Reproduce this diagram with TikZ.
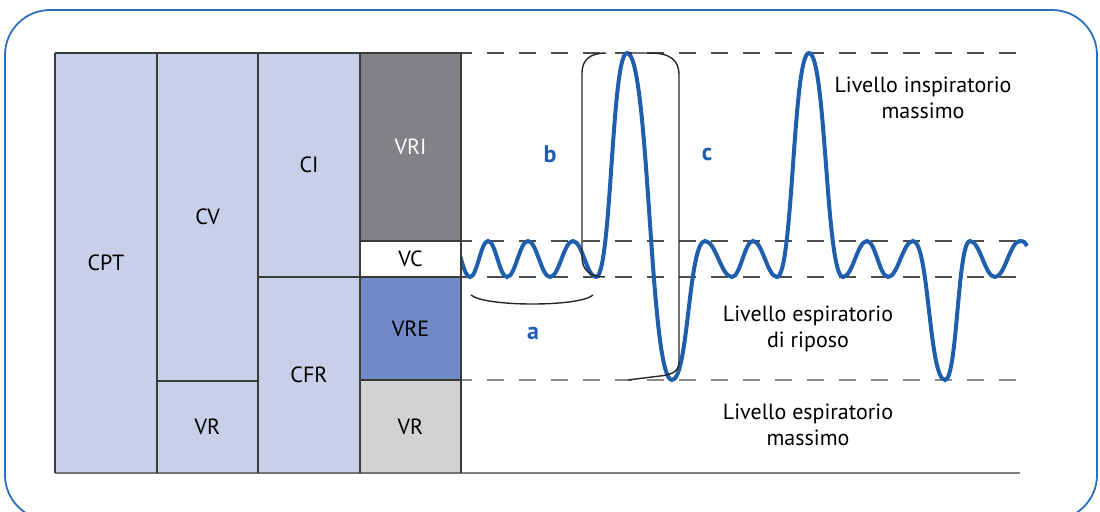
\documentclass[tikz,border=0pt]{standalone}
\usepackage{fontspec}
\setsansfont{PT Sans}
\definecolor{clav}{HTML}{C8CFE8}
\definecolor{cvri}{HTML}{818285}
\definecolor{cvre}{HTML}{7189C5}
\definecolor{cvr}{HTML}{D1D2D4}
\definecolor{cwave}{HTML}{1E5EAD}
\definecolor{cframe}{HTML}{2B6FBF}
\definecolor{cline}{HTML}{3A3A3A}
\tikzset{
  every picture/.style={font=\sffamily},
  lbl/.style={font=\sffamily\fontsize{11}{13}\selectfont, text=#1, inner sep=0pt, align=center},
  lbl/.default=black,
  tag/.style={font=\sffamily\bfseries\fontsize{12}{14}\selectfont, text=cwave, inner sep=0pt},
  wall/.style={draw=cline, line width=1pt},
  sep/.style={draw=cline, line width=0.6pt},
  lvl/.style={draw=#1, line width=0.7pt, dash pattern=on 8.5pt off 7.5pt, dash phase=3pt},
  lvl/.default=black!70,
  wave/.style={draw=cwave, line width=2pt},
  brk/.style={draw=black!85, line width=0.7pt},
  frame/.style={draw=cframe, line width=0.9pt, rounded corners=22.5pt},
}

\begin{document}
\begin{tikzpicture}[x=0.5pt, y=-0.5pt]
  \useasboundingbox (0,0) rectangle (1100,511);
  \clip (0,0) rectangle (1100,511);
  \draw[frame] (5,10) rectangle (1097,520);
  \draw[lvl] (461,53) -- (1022,53);
  \draw[lvl] (461,241) -- (1022,241);
  \draw[lvl] (461,277) -- (1022,277);
  \draw[lvl=black!45] (461,380) -- (1022,380);
  \draw[draw=black!50, line width=0.8pt] (461,473) -- (1020,473);
  \draw[wave] (452,241)
    foreach \x/\y/\k [remember=\x as \lx (initially 452), remember=\y as \ly (initially 241)] in
      {470/277/0.4, 488/241/0.4, 507/277/0.4, 528/241/0.4, 550/277/0.4, 573/241/0.4, 596/277/0.4,
       627/53/0.5, 672/380/0.5, 705/241/0.5, 732/277/0.4, 753/241/0.4, 777/277/0.4,
       809/53/0.5, 843/277/0.5, 867/241/0.4, 888/277/0.4, 913/241/0.4,
       945/380/0.5, 970/241/0.5, 995/277/0.4, 1020/241/0.4}
      { .. controls ({\lx+\k*(\x-\lx)},\ly) and ({\x-\k*(\x-\lx)},\y) .. (\x,\y) }
    .. controls (1024,241) and (1026,243) .. (1027,246);
  \foreach \nm/\xa/\ya/\xb/\yb/\col/\tc/\txt in
    {cpt/55/53/157/473/clav/black/CPT, cv/157/53/258/381/clav/black/CV,
     vra/157/381/258/473/clav/black/VR, ci/258/53/360/277/clav/black/CI,
     cfr/258/277/360/473/clav/black/CFR, vri/360/53/461/241/cvri/white/VRI,
     vc/360/241/461/277/white/black/VC, vre/360/277/461/380/cvre/black/VRE,
     vrb/360/380/461/473/cvr/black/VR}
  {
    \fill[\col] (\xa,\ya) rectangle (\xb,\yb);
    \node[lbl=\tc] (\nm) at ({(\xa+\xb)/2},{(\ya+\yb)/2}) {\txt};
  }
  \draw[sep] (157,381) -- (258,381);
  \draw[sep] (258,277) -- (461,277);
  \draw[sep] (360,241) -- (461,241);
  \draw[sep] (360,380) -- (461,380);
  \draw[wall] (55,53) -- (461,53);
  \draw[draw=black!55, line width=0.8pt] (55,473) -- (461,473);
  \foreach \x in {55,157,258,360,461}
    \draw[wall] (\x,53) -- (\x,473);
  \draw[brk] (606,53) .. controls (590,53) and (582,60) .. (582,73) -- (582,257)
    .. controls (582,270) and (590,277) .. (605,277);
  \draw[brk] (628,53) -- (650,53) .. controls (670,53) and (679,60) .. (679,75) -- (679,362)
    .. controls (679,371) and (672,375) .. (660,376) -- (628,380);
  \draw[brk] (471,295) .. controls (485,307) and (580,307) .. (593,295);
  \node[tag] (b) at (550,154) {b};
  \node[tag] (c) at (707,154) {c};
  \node[tag] (a) at (533,333) {a};
  \node[lbl] (insp) at (923,98) {Livello inspiratorio\\massimo};
  \node[lbl] (rip) at (808,329) {Livello espiratorio\\di riposo};
  \node[lbl] (esp) at (808,425) {Livello espiratorio\\massimo};
\end{tikzpicture}
\end{document}
